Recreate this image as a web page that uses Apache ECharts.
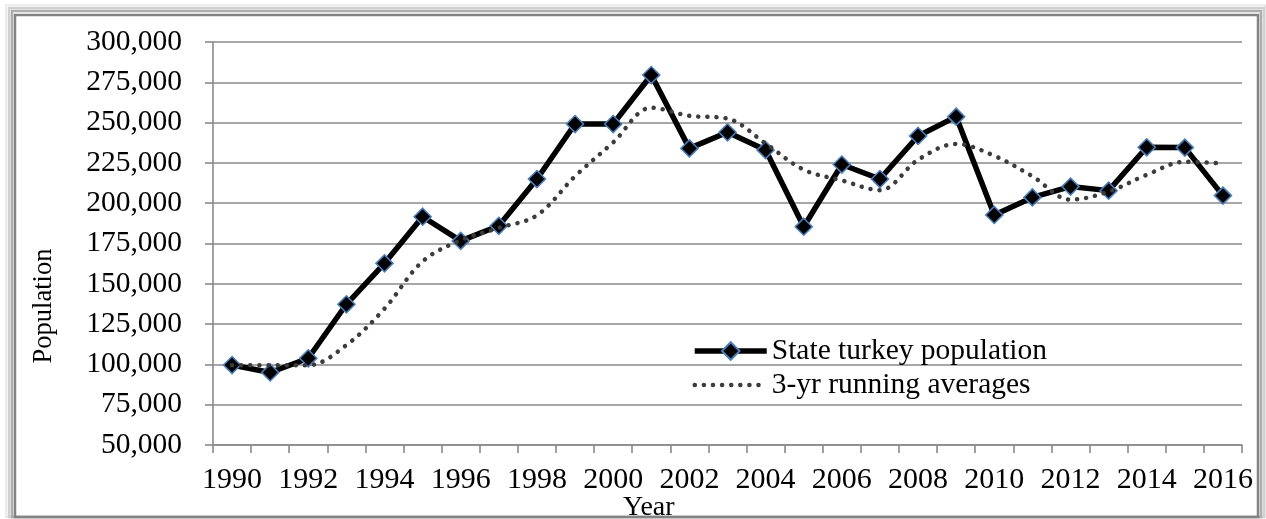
<!DOCTYPE html>
<html>
<head>
<meta charset="utf-8">
<script src="https://cdn.jsdelivr.net/npm/echarts@6/dist/echarts.min.js"></script>
<style>
  html, body { margin: 0; padding: 0; background: #fff; }
  #chart { width: 1266px; height: 519px; }
</style>
</head>
<body>
<div id="chart"></div>
<script>
// years on the category axis
const years = [
  "1990", "1991", "1992", "1993", "1994", "1995", "1996", "1997", "1998",
  "1999", "2000", "2001", "2002", "2003", "2004", "2005", "2006", "2007",
  "2008", "2009", "2010", "2011", "2012", "2013", "2014", "2015", "2016"
];
// yearly state turkey population
const population = [
  99600, 95000, 103800, 137300, 162700, 191600, 176600, 186000, 215000,
  249100, 249100, 279500, 234000, 244000, 233000, 185400, 224000, 215000,
  241700, 253700, 192700, 203600, 210300, 207800, 234700, 234500, 204700
];
// 3-yr running averages (dotted line)
const runningAvg = [
  99500, 99500, 99500, 112000, 134600, 163900, 177000, 184700, 192500,
  216700, 237700, 259200, 254200, 252500, 237000, 220800, 214100, 208100,
  226900, 236800, 229400, 216700, 202200, 207200, 217600, 225700, 224600
];

const serif = "'Liberation Serif', 'Times New Roman', serif";
const gridColor = "#8a8a8a";

const chart = echarts.init(document.getElementById("chart"));

// bevelled frame round the chart
const frame = [
  { x: 6, y: 5, r: 1265, color: "#e6e6e6", w: 1.5 },
  { x: 9, y: 8, r: 1264, color: "#d0d0d0", w: 2.5 },
  { x: 12, y: 11, r: 1261, color: "#acacac", w: 2.5 },
  { x: 15, y: 15, r: 1258, color: "#838383", w: 2.5 }
].map((f) => ({
  type: "rect",
  shape: { x: f.x, y: f.y, width: f.r - f.x, height: 517 - f.y },
  style: { fill: null, stroke: f.color, lineWidth: f.w },
  silent: true,
  z: 0
}));

const option = {
  backgroundColor: "#fff",
  animation: false,
  grid: { left: 213, right: 24, top: 42, bottom: 74 },
  legend: {
    orient: "vertical",
    left: 687,
    top: 331,
    itemWidth: 72,
    itemHeight: 22,
    itemGap: 4,
    textStyle: { fontFamily: serif, fontSize: 29.5, color: "#000" },
    data: [
      {
        name: "State turkey population",
        lineStyle: { width: 5.5, color: "#000" }
      },
      {
        name: "3-yr running averages",
        itemStyle: { opacity: 0 },
        lineStyle: { width: 4.5, color: "#3c3c3c", type: [0.1, 9], cap: "round" }
      }
    ]
  },
  xAxis: {
    type: "category",
    data: years,
    boundaryGap: true,
    axisLine: { lineStyle: { color: gridColor, width: 1.6 } },
    axisTick: { show: true, interval: 0, length: 8, lineStyle: { color: gridColor, width: 1.6 } },
    axisLabel: {
      interval: 1,
      margin: 20,
      fontFamily: serif,
      fontSize: 30,
      color: "#000"
    },
    splitLine: { show: false }
  },
  yAxis: {
    type: "value",
    min: 50000,
    max: 300000,
    interval: 25000,
    axisLine: { show: true, lineStyle: { color: gridColor, width: 1.6 } },
    axisTick: { show: true, length: 8, lineStyle: { color: gridColor, width: 1.6 } },
    axisLabel: {
      margin: 31,
      fontFamily: serif,
      fontSize: 29.5,
      color: "#000",
      formatter: (v) => v.toLocaleString("en-US")
    },
    splitLine: { show: true, lineStyle: { color: gridColor, width: 1.6 } }
  },
  graphic: frame.concat([
    {
      type: "text",
      left: 623,
      top: 494,
      style: { text: "Year", fontFamily: serif, fontSize: 28, fill: "#000" },
      z: 5
    },
    {
      type: "text",
      x: 44,
      y: 306,
      rotation: Math.PI / 2,
      style: {
        text: "Population",
        fontFamily: serif,
        fontSize: 26.5,
        fill: "#000",
        align: "center",
        verticalAlign: "middle"
      },
      z: 5
    }
  ]),
  series: [
    {
      name: "State turkey population",
      type: "line",
      data: population,
      symbol: "diamond",
      symbolSize: 17,
      showAllSymbol: true,
      lineStyle: { color: "#000", width: 5.5 },
      itemStyle: { color: "#000", borderColor: "#4a7ebb", borderWidth: 1.6 },
      z: 2
    },
    {
      name: "3-yr running averages",
      type: "line",
      data: runningAvg,
      symbol: "none",
      smooth: 0.35,
      lineStyle: { color: "#3c3c3c", width: 4.5, type: [0.1, 9], cap: "round" },
      itemStyle: { color: "#3c3c3c" },
      z: 3
    }
  ]
};

chart.setOption(option);
</script>
</body>
</html>
